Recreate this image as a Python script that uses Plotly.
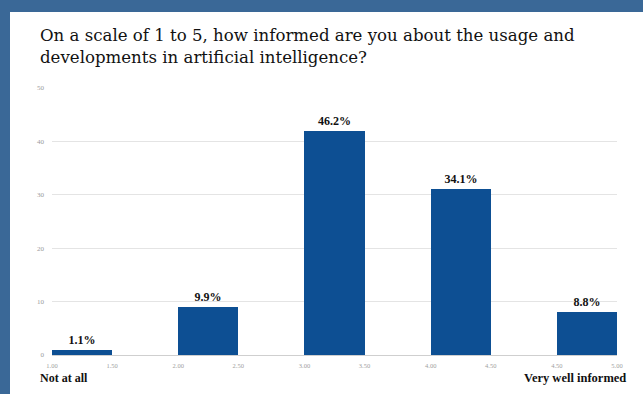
import plotly.graph_objects as go

# Data
bin_starts = ["1.00", "2.00", "3.00", "4.00", "4.50"]
bin_ends = ["1.50", "2.50", "3.50", "4.50", "5.00"]
counts = [1, 9, 42, 31, 8]
y_ticks = [0, 10, 20, 30, 40, 50]
title_lines = ["On a scale of 1 to 5, how informed are you about the usage and",
               "developments in artificial intelligence?"]
low_label = "Not at all"
high_label = "Very well informed"

SERIF = "Liberation Serif, Times New Roman, serif"
WIDE_SERIF = "DejaVu Serif, serif"

total = sum(counts)
pct_labels = [f"<b>{c / total * 100:.1f}%</b>" for c in counts]
xs = list(range(len(counts)))
bw = 0.476

tickvals, ticktext = [], []
for i, (a, b) in enumerate(zip(bin_starts, bin_ends)):
    tickvals += [i - bw / 2, i + bw / 2]
    ticktext += [a, b]

W, H = 643, 394
ml, mr, mt, mb = 52, 26, 88, 39
pw, ph = W - ml - mr, H - mt - mb


def px_x(p):
    return (p - ml) / pw


def px_y(p):
    return (H - mb - p) / ph


fig = go.Figure()
fig.add_trace(go.Bar(
    x=xs, y=counts, width=bw,
    marker=dict(color="#0d4f93", line=dict(width=0)),
    text=pct_labels, textposition="outside", cliponaxis=False,
    textfont=dict(family=SERIF, size=12, color="#111111"),
    hoverinfo="skip",
))

fig.add_shape(type="rect", xref="paper", yref="paper", layer="below",
              x0=px_x(10), x1=px_x(W + 5), y0=px_y(H + 5), y1=px_y(12),
              fillcolor="white", line=dict(width=0))

annotations = [
    dict(text="<br>".join(title_lines), xref="paper", yref="paper", x=px_x(38), xanchor="left",
         y=px_y(46), yanchor="middle", align="left", showarrow=False,
         font=dict(family=WIDE_SERIF, size=16.6, color="#111111")),
    dict(text=f"<b>{low_label}</b>", xref="paper", yref="paper", x=px_x(38), xanchor="left",
         y=px_y(378), yanchor="middle", showarrow=False,
         font=dict(family=SERIF, size=12, color="#111111")),
    dict(text=f"<b>{high_label}</b>", xref="paper", yref="paper", x=px_x(628), xanchor="right",
         y=px_y(378), yanchor="middle", showarrow=False,
         font=dict(family=SERIF, size=12.5, color="#111111")),
]

fig.update_layout(
    width=W, height=H,
    margin=dict(l=ml, r=mr, t=mt, b=mb),
    font=dict(family=SERIF),
    paper_bgcolor="#3a6897",
    plot_bgcolor="white",
    showlegend=False,
    bargap=0,
    xaxis=dict(range=[-bw / 2, len(counts) - 1 + bw / 2], tickvals=tickvals, ticktext=ticktext,
               showgrid=False, zeroline=False, showline=False, ticks="",
               tickfont=dict(family=SERIF, size=6.5, color="#a0a0a0"), ticklabelstandoff=5),
    yaxis=dict(range=[0, 50], tickvals=y_ticks, showgrid=True, gridcolor="#e4e4e4", gridwidth=1,
               zeroline=True, zerolinecolor="#cfcfcf", zerolinewidth=1,
               ticks="", tickfont=dict(family=SERIF, size=7, color="#9a9a9a"),
               ticklabelstandoff=7),
    annotations=annotations,
)

fig.write_html("out.html")
